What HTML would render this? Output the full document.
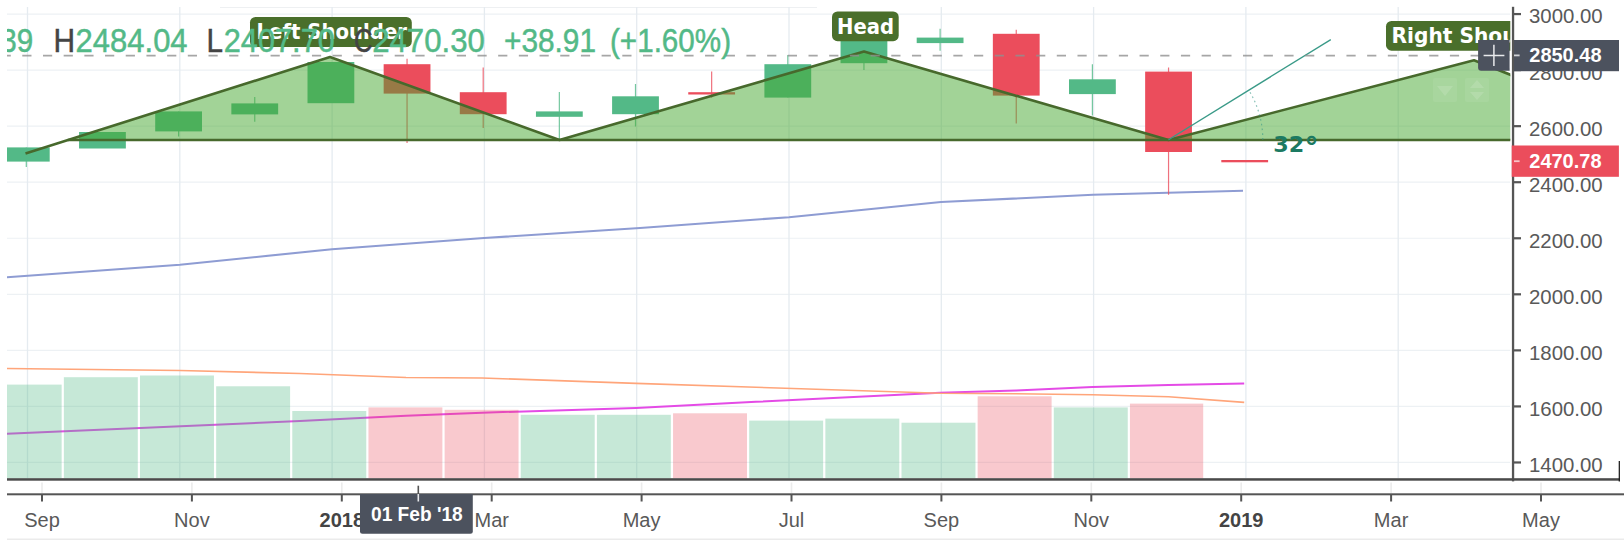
<!DOCTYPE html>
<html lang="en"><head><meta charset="utf-8"><title>Chart</title>
<style>
html,body{margin:0;padding:0;background:#fff;}
body{width:1624px;height:546px;overflow:hidden;}
svg{display:block;}
.ax{font-family:"Liberation Sans",Arial,sans-serif;font-size:20px;fill:#595959;}
.axb{font-family:"Liberation Sans",Arial,sans-serif;font-size:20px;font-weight:bold;}
.lg{font-family:"Liberation Sans",Arial,sans-serif;font-size:34px;stroke-width:0.5px;}
.lb{font-family:"DejaVu Sans",Verdana,sans-serif;font-weight:bold;font-size:22px;fill:#fff;}
</style></head><body>
<svg width="1624" height="546" viewBox="0 0 1624 546">
<defs><clipPath id="c"><rect x="7" y="7" width="1503.3" height="472"/></clipPath></defs>
<rect width="1624" height="546" fill="#fff"/>
<g clip-path="url(#c)">

<rect x="220" y="6" width="597" height="2" fill="#eef0f2"/>
<line x1="7" x2="1510" y1="14.07" y2="14.07" stroke="#edf1f4" stroke-width="1.2"/>
<line x1="7" x2="1510" y1="70.12" y2="70.12" stroke="#edf1f4" stroke-width="1.2"/>
<line x1="7" x2="1510" y1="126.17" y2="126.17" stroke="#edf1f4" stroke-width="1.2"/>
<line x1="7" x2="1510" y1="182.22" y2="182.22" stroke="#edf1f4" stroke-width="1.2"/>
<line x1="7" x2="1510" y1="238.27" y2="238.27" stroke="#edf1f4" stroke-width="1.2"/>
<line x1="7" x2="1510" y1="294.32" y2="294.32" stroke="#edf1f4" stroke-width="1.2"/>
<line x1="7" x2="1510" y1="350.37" y2="350.37" stroke="#edf1f4" stroke-width="1.2"/>
<line x1="7" x2="1510" y1="406.42" y2="406.42" stroke="#edf1f4" stroke-width="1.2"/>
<line x1="7" x2="1510" y1="462.47" y2="462.47" stroke="#edf1f4" stroke-width="1.2"/>
<line y1="7" y2="478" x1="27.50" x2="27.50" stroke="#e5ebf0" stroke-width="1.3"/>
<line y1="7" y2="478" x1="179.80" x2="179.80" stroke="#e5ebf0" stroke-width="1.3"/>
<line y1="7" y2="478" x1="332.10" x2="332.10" stroke="#e5ebf0" stroke-width="1.3"/>
<line y1="7" y2="478" x1="484.40" x2="484.40" stroke="#e5ebf0" stroke-width="1.3"/>
<line y1="7" y2="478" x1="636.70" x2="636.70" stroke="#e5ebf0" stroke-width="1.3"/>
<line y1="7" y2="478" x1="789.00" x2="789.00" stroke="#e5ebf0" stroke-width="1.3"/>
<line y1="7" y2="478" x1="941.30" x2="941.30" stroke="#e5ebf0" stroke-width="1.3"/>
<line y1="7" y2="478" x1="1093.60" x2="1093.60" stroke="#e5ebf0" stroke-width="1.3"/>
<line y1="7" y2="478" x1="1245.90" x2="1245.90" stroke="#e5ebf0" stroke-width="1.3"/>
<line y1="7" y2="478" x1="1398.20" x2="1398.20" stroke="#e5ebf0" stroke-width="1.3"/>
<polyline points="7,433.8 300,421 350,418.6 406,415.7 482,412.7 636,408 756,401.8 940.1,392.8 1016.3,390.6 1092.4,386.9 1168.6,385.1 1244.2,383.5" fill="none" stroke="#e44be6" stroke-width="2.0"/>
<rect x="-12.30" y="384.6" width="73.95" height="93.80" fill="rgba(83,185,135,0.33)"/>
<rect x="63.85" y="377.2" width="73.95" height="101.20" fill="rgba(83,185,135,0.33)"/>
<rect x="140.00" y="375.5" width="73.95" height="102.90" fill="rgba(83,185,135,0.33)"/>
<rect x="216.15" y="386.3" width="73.95" height="92.10" fill="rgba(83,185,135,0.33)"/>
<rect x="292.30" y="411" width="73.95" height="67.40" fill="rgba(83,185,135,0.33)"/>
<rect x="368.45" y="407.4" width="73.95" height="71.00" fill="rgba(235,77,92,0.30)"/>
<rect x="444.60" y="409.8" width="73.95" height="68.60" fill="rgba(235,77,92,0.30)"/>
<rect x="520.75" y="414.8" width="73.95" height="63.60" fill="rgba(83,185,135,0.33)"/>
<rect x="596.90" y="414.8" width="73.95" height="63.60" fill="rgba(83,185,135,0.33)"/>
<rect x="673.05" y="413.3" width="73.95" height="65.10" fill="rgba(235,77,92,0.30)"/>
<rect x="749.20" y="420.6" width="73.95" height="57.80" fill="rgba(83,185,135,0.33)"/>
<rect x="825.35" y="418.6" width="73.95" height="59.80" fill="rgba(83,185,135,0.33)"/>
<rect x="901.50" y="422.7" width="73.95" height="55.70" fill="rgba(83,185,135,0.33)"/>
<rect x="977.65" y="396.3" width="73.95" height="82.10" fill="rgba(235,77,92,0.30)"/>
<rect x="1053.80" y="407.4" width="73.95" height="71.00" fill="rgba(83,185,135,0.33)"/>
<rect x="1129.95" y="403.6" width="73.25" height="74.80" fill="rgba(235,77,92,0.30)"/>
<polyline points="7,368.5 180,370.5 300,373.5 406,377.5 482,378 636,383.4 756,387.3 940.1,393.2 1016.3,393.8 1092.4,394.7 1168.6,396.8 1244.2,402.4" fill="none" stroke="#ffa57a" stroke-width="1.6"/>
<polyline points="7,277.2 180,264.8 332,249.2 484,238 640,228 789,217.2 941,202 1093,194.8 1243,190.8" fill="none" stroke="#8e9cd3" stroke-width="2.1"/>
<line x1="26.30" x2="26.30" y1="147.4" y2="167" stroke="#53b987" stroke-width="1.2" stroke-opacity="0.8"/>
<rect x="2.90" y="147.4" width="46.80" height="14.20" fill="#53b987"/>
<rect x="79.05" y="132" width="46.80" height="16.50" fill="#53b987"/>
<line x1="178.60" x2="178.60" y1="111.4" y2="136.4" stroke="#53b987" stroke-width="1.2" stroke-opacity="0.8"/>
<rect x="155.20" y="111.4" width="46.80" height="20.00" fill="#53b987"/>
<line x1="254.75" x2="254.75" y1="97" y2="121.8" stroke="#53b987" stroke-width="1.2" stroke-opacity="0.8"/>
<rect x="231.35" y="103.4" width="46.80" height="11.00" fill="#53b987"/>
<rect x="307.50" y="62" width="46.80" height="41.20" fill="#53b987"/>
<line x1="407.05" x2="407.05" y1="58.7" y2="143" stroke="#eb4d5c" stroke-width="1.2" stroke-opacity="0.8"/>
<rect x="383.65" y="64.2" width="46.80" height="29.40" fill="#eb4d5c"/>
<line x1="483.20" x2="483.20" y1="67.5" y2="128" stroke="#eb4d5c" stroke-width="1.2" stroke-opacity="0.8"/>
<rect x="459.80" y="92.2" width="46.80" height="22.00" fill="#eb4d5c"/>
<line x1="559.35" x2="559.35" y1="92" y2="140" stroke="#53b987" stroke-width="1.2" stroke-opacity="0.8"/>
<rect x="535.95" y="111.4" width="46.80" height="5.40" fill="#53b987"/>
<line x1="635.50" x2="635.50" y1="84" y2="126.5" stroke="#53b987" stroke-width="1.2" stroke-opacity="0.8"/>
<rect x="612.10" y="96.3" width="46.80" height="17.90" fill="#53b987"/>
<line x1="711.65" x2="711.65" y1="71.6" y2="97.7" stroke="#eb4d5c" stroke-width="1.2" stroke-opacity="0.8"/>
<rect x="688.25" y="92.2" width="46.80" height="2.30" fill="#eb4d5c"/>
<line x1="787.80" x2="787.80" y1="55" y2="97.6" stroke="#53b987" stroke-width="1.2" stroke-opacity="0.8"/>
<rect x="764.40" y="64.2" width="46.80" height="33.40" fill="#53b987"/>
<line x1="863.95" x2="863.95" y1="38" y2="70" stroke="#53b987" stroke-width="1.2" stroke-opacity="0.8"/>
<rect x="840.55" y="38" width="46.80" height="25.20" fill="#53b987"/>
<line x1="940.10" x2="940.10" y1="28.8" y2="50.8" stroke="#53b987" stroke-width="1.2" stroke-opacity="0.8"/>
<rect x="916.70" y="37.6" width="46.80" height="5.50" fill="#53b987"/>
<line x1="1016.25" x2="1016.25" y1="29.7" y2="123.6" stroke="#eb4d5c" stroke-width="1.2" stroke-opacity="0.8"/>
<rect x="992.85" y="33.8" width="46.80" height="61.80" fill="#eb4d5c"/>
<line x1="1092.40" x2="1092.40" y1="64.2" y2="115.5" stroke="#53b987" stroke-width="1.2" stroke-opacity="0.8"/>
<rect x="1069.00" y="79.3" width="46.80" height="14.80" fill="#53b987"/>
<line x1="1168.55" x2="1168.55" y1="67.5" y2="194.8" stroke="#eb4d5c" stroke-width="1.2" stroke-opacity="0.8"/>
<rect x="1145.15" y="71.6" width="46.80" height="80.40" fill="#eb4d5c"/>
<rect x="1221.30" y="160" width="46.80" height="2.30" fill="#eb4d5c"/>
<polygon points="67.8,140 330,57 559.5,140" fill="rgba(69,168,47,0.5)"/>
<polygon points="559.5,140 864,51.6 1168.5,140" fill="rgba(69,168,47,0.5)"/>
<polygon points="1168.5,140 1474,60.3 1674.6,140" fill="rgba(69,168,47,0.5)"/>
<polyline points="25.5,153.4 330,57 559.5,140 864,51.6 1168.5,140 1474,60.3 1674.6433566433566,140" fill="none" stroke="#47692c" stroke-width="2.6" stroke-linejoin="round"/>
<line x1="67.8" x2="1674.6" y1="140" y2="140" stroke="#47692c" stroke-width="2.6"/>
<g opacity="0.07" fill="#fff"><rect x="1433" y="78" width="24" height="24" rx="2"/><rect x="1465" y="78" width="24" height="24" rx="2"/></g>
<g opacity="0.13" fill="#fff"><polygon points="1437,86 1453,86 1445,96"/><polygon points="1470,88 1484,88 1477,80"/><polygon points="1470,92 1484,92 1477,100"/></g>
<line x1="1168.5" y1="139.7" x2="1330.8" y2="39.6" stroke="#3a9a88" stroke-width="1.3"/>
<path d="M1262.8,139.7 A94.3,94.3 0 0 0 1248.8,90.2" fill="none" stroke="#3a9a88" stroke-width="1.2" stroke-dasharray="1.6 3.2" opacity="0.6"/>
<text x="1273.3" y="151.9" textLength="31" lengthAdjust="spacingAndGlyphs" style="font-family:'DejaVu Sans',Verdana,sans-serif;font-weight:bold;font-size:21.5px;fill:#1c7a62">32</text>
<text x="1304.6" y="156.8" style="font-family:'DejaVu Sans',Verdana,sans-serif;font-weight:bold;font-size:28px;fill:#1c7a62">°</text>
<rect x="250" y="17" width="161.8" height="30" rx="5.5" fill="#4a6f2b"/>
<text class="lb" x="256.5" y="39.2" textLength="150.5" lengthAdjust="spacingAndGlyphs">Left Shoulder</text>
<rect x="832" y="11.5" width="66.70000000000005" height="29.700000000000003" rx="5.5" fill="#4a6f2b"/>
<text class="lb" x="837" y="34.2" textLength="57" lengthAdjust="spacingAndGlyphs">Head</text>
<rect x="1386" y="21" width="184" height="29.700000000000003" rx="5.5" fill="#4a6f2b"/>
<text class="lb" x="1391.5" y="43" textLength="170" lengthAdjust="spacingAndGlyphs">Right Shoulder</text>
<line x1="1.6" x2="1510" y1="55.6" y2="55.6" stroke="#909090" stroke-opacity="0.8" stroke-width="1.9" stroke-dasharray="9.2 11.49"/>
<text class="lg" x="0.3" y="51.6" textLength="32.9" lengthAdjust="spacingAndGlyphs" fill="#53b987" stroke="#53b987">39</text>
<text class="lg" x="53.6" y="51.6" textLength="21.6" lengthAdjust="spacingAndGlyphs" fill="#444" stroke="#444">H</text>
<text class="lg" x="75.6" y="51.6" textLength="112.0" lengthAdjust="spacingAndGlyphs" fill="#53b987" stroke="#53b987">2484.04</text>
<text class="lg" x="206.5" y="51.6" textLength="16.5" lengthAdjust="spacingAndGlyphs" fill="#444" stroke="#444">L</text>
<text class="lg" x="223.8" y="51.6" textLength="111.0" lengthAdjust="spacingAndGlyphs" fill="#53b987" stroke="#53b987">2407.70</text>
<text class="lg" x="354" y="51.6" textLength="18.5" lengthAdjust="spacingAndGlyphs" fill="#444" stroke="#444">C</text>
<text class="lg" x="372.2" y="51.6" textLength="112.6" lengthAdjust="spacingAndGlyphs" fill="#53b987" stroke="#53b987">2470.30</text>
<text class="lg" x="504" y="51.6" textLength="92.0" lengthAdjust="spacingAndGlyphs" fill="#53b987" stroke="#53b987">+38.91</text>
<text class="lg" x="610" y="51.6" textLength="121.0" lengthAdjust="spacingAndGlyphs" fill="#53b987" stroke="#53b987">(+1.60%)</text>
</g>
<path d="M1478.1,40 H1509.6 V70.8 H1481.1 Q1478.1,70.8 1478.1,67.8 Z" fill="#4c525e"/>
<path d="M1483.6,55.4 H1504.4 M1493.9,44.8 V66" stroke="#e8e9ec" stroke-width="1.5" fill="none"/>
<rect x="1511.9" y="6.8" width="2.3" height="474.6" fill="#555"/>
<rect x="1514" y="12.97" width="7" height="2.2" fill="#555"/>
<text class="ax" x="1529" y="23.47" textLength="73.7" lengthAdjust="spacingAndGlyphs">3000.00</text>
<rect x="1514" y="69.02" width="7" height="2.2" fill="#555"/>
<text class="ax" x="1529" y="79.52" textLength="73.7" lengthAdjust="spacingAndGlyphs">2800.00</text>
<rect x="1514" y="125.07" width="7" height="2.2" fill="#555"/>
<text class="ax" x="1529" y="135.57" textLength="73.7" lengthAdjust="spacingAndGlyphs">2600.00</text>
<rect x="1514" y="181.12" width="7" height="2.2" fill="#555"/>
<text class="ax" x="1529" y="191.62" textLength="73.7" lengthAdjust="spacingAndGlyphs">2400.00</text>
<rect x="1514" y="237.17" width="7" height="2.2" fill="#555"/>
<text class="ax" x="1529" y="247.67" textLength="73.7" lengthAdjust="spacingAndGlyphs">2200.00</text>
<rect x="1514" y="293.22" width="7" height="2.2" fill="#555"/>
<text class="ax" x="1529" y="303.72" textLength="73.7" lengthAdjust="spacingAndGlyphs">2000.00</text>
<rect x="1514" y="349.27" width="7" height="2.2" fill="#555"/>
<text class="ax" x="1529" y="359.77" textLength="73.7" lengthAdjust="spacingAndGlyphs">1800.00</text>
<rect x="1514" y="405.32" width="7" height="2.2" fill="#555"/>
<text class="ax" x="1529" y="415.82" textLength="73.7" lengthAdjust="spacingAndGlyphs">1600.00</text>
<rect x="1514" y="461.37" width="7" height="2.2" fill="#555"/>
<text class="ax" x="1529" y="471.87" textLength="73.7" lengthAdjust="spacingAndGlyphs">1400.00</text>
<rect x="7" y="478.2" width="1612.6" height="2.5" fill="#4a4a4a"/>
<rect x="1618.7" y="461" width="1.2" height="20.5" fill="#111"/>
<rect x="7" y="493.3" width="1617" height="2" fill="#555"/>
<rect x="41.20" y="482.5" width="1.6" height="10.5" fill="#ececec"/>
<rect x="41.00" y="494" width="2" height="7.5" fill="#555"/>
<text class="ax" x="42.00" y="527.3" text-anchor="middle">Sep</text>
<rect x="191.10" y="482.5" width="1.6" height="10.5" fill="#ececec"/>
<rect x="190.90" y="494" width="2" height="7.5" fill="#555"/>
<text class="ax" x="191.90" y="527.3" text-anchor="middle">Nov</text>
<rect x="341.00" y="482.5" width="1.6" height="10.5" fill="#ececec"/>
<rect x="340.80" y="494" width="2" height="7.5" fill="#555"/>
<text class="axb" x="341.80" y="527.3" text-anchor="middle" fill="#444">2018</text>
<rect x="490.90" y="482.5" width="1.6" height="10.5" fill="#ececec"/>
<rect x="490.70" y="494" width="2" height="7.5" fill="#555"/>
<text class="ax" x="491.70" y="527.3" text-anchor="middle">Mar</text>
<rect x="640.80" y="482.5" width="1.6" height="10.5" fill="#ececec"/>
<rect x="640.60" y="494" width="2" height="7.5" fill="#555"/>
<text class="ax" x="641.60" y="527.3" text-anchor="middle">May</text>
<rect x="790.70" y="482.5" width="1.6" height="10.5" fill="#ececec"/>
<rect x="790.50" y="494" width="2" height="7.5" fill="#555"/>
<text class="ax" x="791.50" y="527.3" text-anchor="middle">Jul</text>
<rect x="940.60" y="482.5" width="1.6" height="10.5" fill="#ececec"/>
<rect x="940.40" y="494" width="2" height="7.5" fill="#555"/>
<text class="ax" x="941.40" y="527.3" text-anchor="middle">Sep</text>
<rect x="1090.50" y="482.5" width="1.6" height="10.5" fill="#ececec"/>
<rect x="1090.30" y="494" width="2" height="7.5" fill="#555"/>
<text class="ax" x="1091.30" y="527.3" text-anchor="middle">Nov</text>
<rect x="1240.40" y="482.5" width="1.6" height="10.5" fill="#ececec"/>
<rect x="1240.20" y="494" width="2" height="7.5" fill="#555"/>
<text class="axb" x="1241.20" y="527.3" text-anchor="middle" fill="#444">2019</text>
<rect x="1390.30" y="482.5" width="1.6" height="10.5" fill="#ececec"/>
<rect x="1390.10" y="494" width="2" height="7.5" fill="#555"/>
<text class="ax" x="1391.10" y="527.3" text-anchor="middle">Mar</text>
<rect x="1540.20" y="482.5" width="1.6" height="10.5" fill="#ececec"/>
<rect x="1540.00" y="494" width="2" height="7.5" fill="#555"/>
<text class="ax" x="1541.00" y="527.3" text-anchor="middle">May</text>
<rect x="7" y="538.6" width="1617" height="1.2" fill="#e6e6e6"/>
<rect x="1514" y="40" width="105" height="31.2" fill="#4c525e"/>
<rect x="1514" y="54.5" width="5.6" height="1.8" fill="#d0d2d6"/>
<text class="axb" x="1529.3" y="62.1" textLength="72.2" lengthAdjust="spacingAndGlyphs" fill="#fff">2850.48</text>
<rect x="1511.7" y="145.5" width="107.2" height="31.3" fill="#eb4d5c"/>
<rect x="1514" y="160.3" width="5.6" height="1.8" fill="#f7c3c8"/>
<text class="axb" x="1529.3" y="168.3" textLength="72.2" lengthAdjust="spacingAndGlyphs" fill="#fff">2470.78</text>
<rect x="417.5" y="485.7" width="1.6" height="8.5" fill="#555"/>
<path d="M360,494 H472.8 V531.3 Q472.8,533.8 470.3,533.8 H362.5 Q360,533.8 360,531.3 Z" fill="#4c525e"/>
<rect x="417.5" y="494" width="1.6" height="7.5" fill="#e8e9ec"/>
<text class="axb" x="371" y="521" textLength="91.7" lengthAdjust="spacingAndGlyphs" fill="#fff">01 Feb '18</text>
</svg></body></html>
